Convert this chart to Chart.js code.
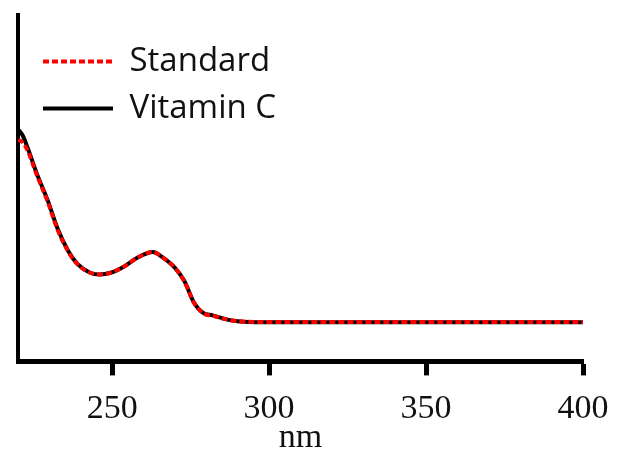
<!DOCTYPE html>
<html>
<head>
<meta charset="utf-8">
<script src="https://cdn.jsdelivr.net/npm/chart.js@4/dist/chart.umd.min.js"></script>
<style>
  html, body { margin: 0; padding: 0; background: #fff; }
  #wrap { width: 617px; height: 449px; position: relative; }
</style>
</head>
<body>
<div id="wrap"><canvas id="spectrum"></canvas></div>
<script>
  // wavelength (nm) and absorbance
  const WAVELENGTH = [220, 221.5, 223, 226, 229.5, 232.5, 236, 239, 243, 246, 249.5, 254, 258, 263, 265.5, 270, 273, 276, 279, 282, 286, 290, 298, 320, 340, 360, 380, 400];
  const VITAMIN_C  = [0.670, 0.652, 0.618, 0.542, 0.464, 0.386, 0.319, 0.281, 0.256, 0.251, 0.256, 0.275, 0.299, 0.316, 0.304, 0.270, 0.232, 0.171, 0.140, 0.133, 0.122, 0.116, 0.113, 0.113, 0.113, 0.113, 0.113, 0.113];
  const STANDARD   = [0.640, 0.632, 0.610, 0.538, 0.460, 0.383, 0.317, 0.280, 0.256, 0.251, 0.256, 0.275, 0.299, 0.316, 0.304, 0.270, 0.231, 0.170, 0.139, 0.132, 0.122, 0.116, 0.114, 0.114, 0.114, 0.114, 0.114, 0.114];
  const X_TICKS    = [250, 300, 350, 400];

  const SERIF = "'Liberation Serif', 'Times New Roman', serif";
  const SANS  = "'Open Sans', 'Noto Sans', sans-serif";

  function points(ys) {
    return WAVELENGTH.map(function (x, i) { return { x: x, y: ys[i] }; });
  }

  // nudge the legend a little right, inside the plot
  const legendInset = {
    id: 'legendInset',
    afterLayout(chart) {
      if (!chart.legend) return;
      chart.legend.left += 11;
    }
  };

  new Chart(document.getElementById('spectrum'), {
    type: 'line',
    data: {
      datasets: [{
        label: 'Standard',
        data: points(STANDARD),
        borderColor: '#ff0000',
        backgroundColor: 'transparent',
        borderWidth: 4,
        borderDash: [6, 3],
        pointRadius: 0,
        cubicInterpolationMode: 'monotone'
      }, {
        label: 'Vitamin C',
        data: points(VITAMIN_C),
        borderColor: '#000000',
        backgroundColor: 'transparent',
        borderWidth: 4,
        pointRadius: 0,
        cubicInterpolationMode: 'monotone'
      }]
    },
    options: {
      responsive: true,
      maintainAspectRatio: false,
      animation: false,
      layout: { padding: { left: 10, top: 15, right: 34, bottom: 0 } },
      plugins: {
        tooltip: { enabled: false },
        legend: {
          position: 'chartArea',
          align: 'start',
          title: { display: true, text: '', padding: 0, font: { size: 31, lineHeight: 1 } },
          labels: {
            usePointStyle: true,
            pointStyle: 'line',
            pointStyleWidth: 70,
            padding: 14,
            color: '#111',
            font: { family: SANS, size: 33 },
            generateLabels: function (chart) {
              const items = Chart.defaults.plugins.legend.labels.generateLabels(chart);
              items.forEach(function (it) {
                const ds = chart.data.datasets[it.datasetIndex];
                it.lineDash = ds.borderDash || [];
                it.lineWidth = ds.borderWidth;
                it.strokeStyle = ds.borderColor;
              });
              return items;
            }
          }
        }
      },
      scales: {
        x: {
          type: 'linear',
          min: 220,
          max: 400,
          afterBuildTicks: function (scale) {
            scale.ticks = X_TICKS.map(function (v) { return { value: v }; });
          },
          afterFit: function (scale) {
            // the last label may hang past the plot edge, as in the figure
            scale.paddingLeft = 0;
            scale.paddingRight = 0;
          },
          ticks: {
            color: '#111',
            padding: 13,
            maxRotation: 0,
            font: { family: SERIF, size: 34 }
          },
          grid: {
            display: true,
            drawOnChartArea: false,
            drawTicks: true,
            tickLength: 14,
            tickWidth: 5,
            tickColor: '#000'
          },
          border: { display: true, width: 5, color: '#000' },
          title: {
            display: true,
            text: 'nm',
            color: '#111',
            padding: { top: -25, bottom: -9 },
            font: { family: SERIF, size: 34 }
          }
        },
        y: {
          min: 0,
          max: 1,
          ticks: { display: false },
          grid: { display: false },
          border: { display: true, width: 4, color: '#000' }
        }
      }
    },
    plugins: [legendInset]
  });
</script>
</body>
</html>
